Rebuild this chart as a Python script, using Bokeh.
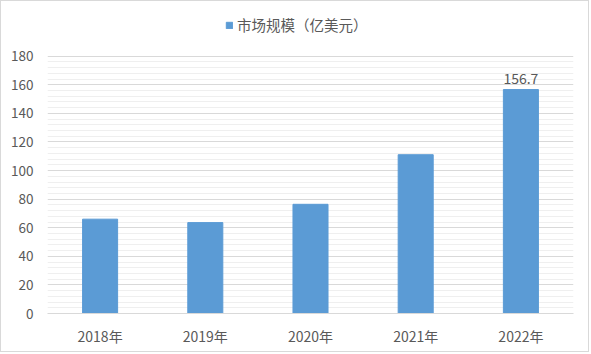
from bokeh.plotting import figure
from bokeh.models import ColumnDataSource, Legend, LegendItem, FixedTicker, Range1d
from bokeh.core.properties import value
from bokeh.embed import file_html
from bokeh.resources import INLINE

# Market size by year (100 million USD)
years = ["2018年", "2019年", "2020年", "2021年", "2022年"]
market_size = [66.0, 63.6, 76.4, 111.1, 156.7]
series_name = "市场规模（亿美元）"
labelled_years = ["2022年"]
labelled_values = [156.7]
y_ticks = [0, 20, 40, 60, 80, 100, 120, 140, 160, 180]
y_minor_ticks = [v for v in range(0, 181, 4) if v % 20]

FONT = "Noto Sans CJK SC"
TEXT_COLOR = "#595959"
BAR_COLOR = "#5b9bd5"

source = ColumnDataSource(data=dict(year=years, size=market_size))

# the frame runs to the top edge so the legend can sit inside it;
# grid lines stop at the last tick (180)
p = figure(
    x_range=years,
    y_range=Range1d(0, 218.3),
    width=589,
    height=352,
    output_backend="svg",
    toolbar_location=None,
    min_border_left=46,
    min_border_right=17,
    min_border_top=0,
    min_border_bottom=40,
    styles={"border": "1px solid #d9d9d9"},
)
p.outline_line_color = None
p.background_fill_color = "white"
p.border_fill_color = "white"

bars = p.vbar(x="year", top="size", width=0.333, source=source,
              fill_color=BAR_COLOR, line_color=BAR_COLOR)

# value label above the last bar
p.text(x=labelled_years, y=labelled_values, text=[f"{v}" for v in labelled_values],
       text_align="center", text_baseline="bottom", y_offset=-6,
       text_font=value(FONT), text_font_size="14px", text_color=TEXT_COLOR)

# y axis: labels only, gridlines with minor lines
p.yaxis.ticker = FixedTicker(ticks=y_ticks, minor_ticks=y_minor_ticks)
p.yaxis.axis_line_color = None
p.yaxis.major_tick_line_color = None
p.yaxis.minor_tick_line_color = None
p.yaxis.major_label_standoff = 8
p.yaxis.major_label_text_font = FONT
p.yaxis.major_label_text_font_size = "13.5px"
p.yaxis.major_label_text_color = TEXT_COLOR

p.xaxis.axis_line_color = "#d9d9d9"
p.xaxis.major_tick_line_color = None
p.xaxis.minor_tick_line_color = None
p.xaxis.major_label_standoff = 6
p.xaxis.major_label_text_font = FONT
p.xaxis.major_label_text_font_size = "14px"
p.xaxis.major_label_text_color = TEXT_COLOR

p.xgrid.grid_line_color = None
p.ygrid.grid_line_color = "#d9d9d9"
p.ygrid.minor_grid_line_color = "#efefef"

legend = Legend(
    items=[LegendItem(label=series_name, renderers=[bars])],
    location=(178, 278),
    orientation="horizontal",
    glyph_width=8,
    glyph_height=8,
    label_height=16,
    label_standoff=4,
    padding=0,
    margin=0,
    border_line_color=None,
    background_fill_alpha=0,
    label_text_font=FONT,
    label_text_font_size="14.5px",
    label_text_color=TEXT_COLOR,
)
p.add_layout(legend)

open("out.html", "w").write(file_html(p, INLINE))
